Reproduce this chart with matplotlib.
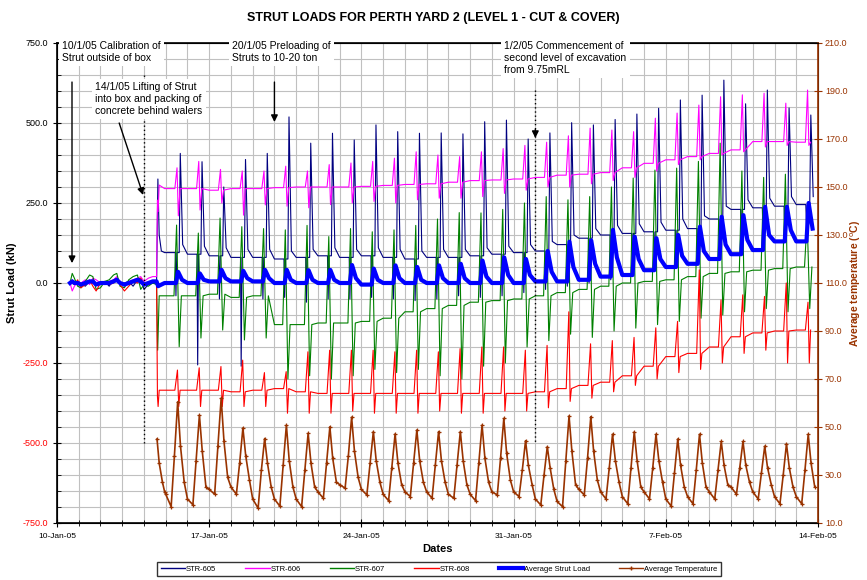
import matplotlib
matplotlib.use("Agg")
import matplotlib.pyplot as plt
import matplotlib.dates as mdates
from matplotlib.ticker import MultipleLocator, FuncFormatter, FixedLocator
from matplotlib.lines import Line2D
from datetime import datetime

plt.rcParams['font.family'] = ['Liberation Sans', 'DejaVu Sans']

# ---------------- DATA ----------------
start_date = datetime(2005, 1, 10)   # day index 0
first_day = 5                          # 15-Jan-05, first full day after lifting
x_tick_days = [0, 7, 14, 21, 28, 35]

# pre-installation period (day index, kN)
pre_t   = [0.60, 0.70, 0.80, 0.95, 1.10, 1.30, 1.50, 1.65, 1.80, 2.00, 2.20, 2.40,
           2.60, 2.75, 2.90, 3.10, 3.30, 3.50, 3.70, 3.85, 4.00, 4.20, 4.40, 4.58]
pre_605 = [0, 10, -5, 5, 0, -10, 5, 10, -5, 0, 5, -10, 10, 15, -5, 0, 5, -10, 10, 15, -20, -5, 0, 0]
pre_606 = [0, -25, -10, 5, 0, 10, -5, 15, 10, 0, -5, 5, 10, 20, 0, -10, 5, 10, 15, 20, 5, 15, 20, 20]
pre_607 = [0, 30, 15, -10, -15, 5, 25, 20, -20, -15, 5, 10, 25, 30, -10, -15, 10, 20, 25, -20, -5, -10, 0, -5]
pre_608 = [5, 0, -5, 10, -15, -5, 10, -10, -25, 0, 5, -5, 0, 10, -5, -25, -10, 5, 0, 15, -5, 0, 5, 5]
pre_avg = [0, 5, 0, 0, -5, 0, 5, 5, -5, 0, 0, 0, 5, 10, 0, -5, 0, 5, 10, 5, -5, 0, 5, 5]

# lifting into box (14-Jan afternoon)
jump_t605 = [4.60, 4.64, 4.70, 4.80, 4.95]
jump_605  = [0, 325, 150, 100, 95]
jump_t606 = [4.60, 4.62, 4.65, 4.70, 4.95]
jump_606  = [20, 259, 223, 306, 295]
jump_t607 = [4.60, 4.63, 4.70, 4.95]
jump_607  = [0, -210, -40, -40]
jump_t608 = [4.60, 4.62, 4.65, 4.70, 4.95]
jump_608  = [0, -355, -386, -335, -335]
jump_tavg = [4.60, 4.65, 4.95]
jump_avg  = [5, -10, 0]
jump_ttmp = [4.60, 4.70, 4.85, 4.95]
jump_tmp  = [45, 35, 27, 23]

# daily readings, 15-Jan-05 .. 13-Feb-05
s605_night = [95, 90, 85, 80, 80, 75, 80, 85, 80, 85, 80, 75, 80, 80, 85, 90, 95, 100, 120, 140,
              150, 155, 160, 165, 170, 200, 230, 235, 240, 245]
s605_dip   = [-40, -256, -50, -260, -50, -45, -60, -50, -50, -45, -50, -55, -50, -40, -45, -40, -30, -20, -10, 0,
              10, 20, 40, 60, 80, 100, 130, 150, 160, 170]
s605_peak  = [405, 379, 300, 386, 405, 519, 437, 468, 447, 494, 473, 468, 469, 466, 504, 509, 450, 469, 501, 494,
              511, 528, 546, 572, 587, 634, 560, 603, 547, 525]
s605_eve   = [120, 115, 110, 105, 105, 100, 105, 110, 105, 110, 105, 100, 105, 105, 110, 115, 120, 130, 150, 170,
              180, 185, 190, 200, 210, 240, 260, 265, 270, 270]

s606_base = [295, 295, 290, 295, 295, 298, 300, 300, 300, 302, 305, 308, 310, 315, 320, 322, 325, 330, 337, 340,
             345, 360, 374, 385, 395, 405, 416, 442, 442, 440]
s606_peak = [360, 380, 355, 350, 350, 365, 350, 370, 375, 380, 390, 410, 400, 395, 410, 420, 430, 440, 460, 484,
             478, 473, 515, 531, 556, 582, 588, 593, 562, 603]
s606_dip  = [210, 228, 250, 212, 244, 240, 235, 245, 250, 255, 250, 260, 265, 265, 270, 280, 290, 300, 300, 310,
             320, 330, 350, 370, 385, 400, 410, 425, 430, 430]

s607_base   = [-40, -40, -35, -45, -40, -130, -130, -125, -125, -120, -110, -90, -80, -70, -60, -55, -50, -40, -30, -20,
               -10, 0, 5, 10, 20, 30, 35, 40, 45, 50]
s607_peak   = [181, 156, 203, 176, 170, 166, 180, 145, 170, 160, 166, 180, 200, 220, 219, 230, 250, 270, 260, 270,
               300, 328, 353, 359, 380, 437, 350, 330, 340, 200]
s607_trough = [-199, -172, -147, -178, -172, -300, -290, -300, -290, -270, -280, -270, -290, -300, -260, -250, -200,
               -180, -160, -170, -150, -141, -130, -120, -110, -100, -90, -80, -90, -80]

s608_base = [-335, -335, -335, -340, -335, -330, -340, -345, -345, -345, -345, -345, -345, -345, -345, -345, -345,
             -340, -330, -320, -310, -290, -260, -230, -220, -200, -168, -156, -150, -147]
s608_peak = [-272, -265, -261, -241, -280, -277, -215, -210, -210, -210, -215, -210, -215, -205, -200, -200, -210,
             -195, -90, -190, -180, -170, -140, -120, 41, -53, -37, -42, 0, -60]
s608_dip  = [-386, -386, -386, -386, -386, -407, -407, -407, -400, -407, -407, -407, -400, -407, -407, -400, -400,
             -390, -370, -360, -340, -320, -300, -280, -270, -250, -220, -210, -250, -250]

avg_base = [0, 0, 5, 5, 5, 0, 0, 0, 0, -5, 0, 0, 0, 0, 0, 0, 0, 5, 5, 10, 20, 25, 40, 50, 60, 75, 90, 103, 130, 130]
avg_peak = [35, 30, 41, 38, 41, 41, 40, 41, 56, 45, 55, 50, 55, 60, 70, 80, 75, 100, 129, 133, 166, 145, 140, 150,
            176, 207, 212, 238, 238, 250]
avg_eve  = [10, 10, 15, 15, 15, 10, 10, 10, 15, 10, 15, 10, 15, 15, 20, 25, 25, 35, 50, 60, 80, 75, 75, 85, 100,
            120, 135, 150, 165, 170]

tmp_mid  = [22, 20, 24, 25, 20, 20, 20, 23, 26, 24, 22, 23, 23, 22, 22, 23, 23, 20, 19, 24, 23, 21, 23, 20, 21,
            23, 25, 23, 21, 21]
tmp_min  = [16.8, 17.6, 22, 22, 16.2, 17, 16.8, 20.3, 24.5, 21.7, 19.3, 21, 20.3, 20.3, 19.3, 21.7, 21, 17.5, 16.8,
            21.7, 20, 18, 20, 17, 18, 20, 22, 20, 18, 18]
tmp_rise = [38, 36, 42, 35, 32, 34, 32, 35, 38, 35, 33, 35, 34, 34, 35, 37, 32, 30, 36, 37, 33, 33, 33, 31, 32, 32,
            33, 31, 30, 32]
tmp_max  = [60.5, 55, 62, 49.6, 45.2, 50.8, 47.4, 50.1, 54.1, 48.1, 47.1, 48.75, 48.1, 48.1, 50.8, 53.6, 44.3, 41.8,
            54.6, 54.3, 47, 48, 47, 45, 47, 44, 44, 42, 43, 47]
tmp_aft  = [42, 40, 44, 38, 35, 36, 35, 37, 40, 36, 35, 36, 36, 36, 37, 39, 34, 33, 40, 40, 36, 36, 36, 34, 35, 34,
            34, 33, 33, 35]
tmp_eve  = [27, 25, 29, 28, 25, 25, 25, 27, 29, 27, 26, 27, 27, 26, 27, 28, 26, 24, 26, 28, 27, 25, 27, 25, 25, 26,
            27, 26, 25, 25]

y_ticks_left = [-750, -500, -250, 0, 250, 500, 750]
y_ticks_right = [10, 30, 50, 70, 90, 110, 130, 150, 170, 190, 210]

# time of day (fraction) of each daily reading
tod_605 = [(0.00, s605_night), (0.44, s605_night), (0.47, s605_dip), (0.51, s605_night), (0.62, s605_night),
           (0.67, s605_peak), (0.78, s605_eve)]
tod_606 = [(0.00, s606_base), (0.42, s606_base), (0.52, s606_peak), (0.58, s606_dip), (0.66, s606_base)]
tod_607 = [(0.00, s607_base), (0.38, s607_base), (0.50, s607_peak), (0.62, s607_trough), (0.72, s607_base)]
tod_608 = [(0.00, s608_base), (0.42, s608_base), (0.54, s608_peak), (0.60, s608_dip), (0.66, s608_base)]
tod_avg = [(0.00, avg_base), (0.47, avg_base), (0.57, avg_peak), (0.75, avg_eve)]
tod_tmp = [(0.00, tmp_mid), (0.25, tmp_min), (0.40, tmp_rise), (0.55, tmp_max), (0.68, tmp_aft), (0.85, tmp_eve)]

base_num = mdates.date2num(start_date)


def build(lead_t, lead_v, tod):
    xs = [base_num + t for t in lead_t]
    ys = list(lead_v)
    ndays = len(tod[0][1])
    for i in range(ndays):
        for frac, arr in tod:
            xs.append(base_num + first_day + i + frac)
            ys.append(arr[i])
    return xs, ys


x605, y605 = build(pre_t + jump_t605[1:], pre_605 + jump_605[1:], tod_605)
x606, y606 = build(pre_t + jump_t606[1:], pre_606 + jump_606[1:], tod_606)
x607, y607 = build(pre_t + jump_t607[1:], pre_607 + jump_607[1:], tod_607)
x608, y608 = build(pre_t + jump_t608[1:], pre_608 + jump_608[1:], tod_608)
xavg, yavg = build(pre_t + jump_tavg[1:], pre_avg + jump_avg[1:], tod_avg)
xtmp, ytmp = build(jump_ttmp, jump_tmp, tod_tmp)

# ---------------- FIGURE ----------------
fig = plt.figure(figsize=(8.67, 5.80), dpi=100)
L, R, B, T = 57 / 867, 818 / 867, 1 - 523 / 580, 1 - 43 / 580
ax = fig.add_axes([L, B, R - L, T - B])

grid_c = '#c0c0c0'
ax.set_xlim(base_num, base_num + 35)
ax.set_ylim(-750, 750)
ax.xaxis.set_major_locator(FixedLocator([base_num + d for d in x_tick_days]))
ax.xaxis.set_minor_locator(MultipleLocator(1))
ax.yaxis.set_minor_locator(MultipleLocator(50))
ax.set_yticks(y_ticks_left)
ax.grid(which='both', color=grid_c, lw=0.8, zorder=0)
ax.set_axisbelow(True)


def date_fmt(v, pos):
    d = mdates.num2date(v)
    return f"{d.day}-{d.strftime('%b-%y')}"


ax.xaxis.set_major_formatter(FuncFormatter(date_fmt))
ax.yaxis.set_major_formatter(FuncFormatter(lambda v, p: f"{v:.1f}"))
ax.tick_params(axis='x', which='major', direction='inout', length=6, labelsize=6, pad=4, colors='black')
ax.tick_params(axis='x', which='minor', direction='inout', length=4)
ax.tick_params(axis='y', which='major', direction='inout', length=6, labelsize=6.5)
ax.tick_params(axis='y', which='minor', direction='in', length=3)
for lab, v in zip(ax.get_yticklabels(), y_ticks_left):
    lab.set_color('red' if v < 0 else 'black')

for s in ['left', 'bottom', 'top']:
    ax.spines[s].set_linewidth(1.2)
    ax.spines[s].set_color('black')

ax.plot(x605, y605, color='#000080', lw=0.8, zorder=3)
ax.plot(x606, y606, color='#FF00FF', lw=0.8, zorder=3)
ax.plot(x607, y607, color='#008000', lw=0.8, zorder=3)
ax.plot(x608, y608, color='#FF0000', lw=0.8, zorder=3)
ax.plot(xavg, yavg, color='#0000FF', lw=3.0, zorder=4)

ax.set_ylabel('Strut Load (kN)', fontsize=8, fontweight='bold', labelpad=4)
ax.set_xlabel('Dates', fontsize=8, fontweight='bold', labelpad=3)

brown = '#993300'
ax2 = ax.twinx()
ax2.set_ylim(10, 210)
ax2.set_yticks(y_ticks_right)
ax2.yaxis.set_major_formatter(FuncFormatter(lambda v, p: f"{v:.1f}"))
ax2.tick_params(axis='y', direction='inout', length=6, labelsize=6.5, colors=brown, pad=2)
ax2.spines['right'].set_color(brown)
ax2.spines['right'].set_linewidth(1.2)
ax2.plot(xtmp, ytmp, color=brown, lw=1.2, marker='+', ms=3.5, mew=0.9, zorder=5)
ax2.set_ylabel('Average temperature ($^{\\mathrm{o}}$C)', fontsize=7.5, fontweight='bold', color=brown,
               rotation=90, va='center')
ax2.yaxis.set_label_coords((856 - 57) / 761, 0.5)

# event markers
ax.plot([base_num + 4.0] * 2, [650, -500], color='black', lw=1.0, ls=(0, (1, 2)), zorder=6)
ax.plot([base_num + 22.0] * 2, [603, -500], color='black', lw=1.0, ls=(0, (1, 2)), zorder=6)
arrow = dict(arrowstyle='-|>', color='black', lw=1.0, mutation_scale=10, shrinkA=0, shrinkB=0)
ax.annotate('', xy=(base_num + 0.69, 62), xytext=(base_num + 0.69, 628), arrowprops=arrow, zorder=7)
ax.annotate('', xy=(base_num + 3.96, 275), xytext=(base_num + 2.86, 500), arrowprops=arrow, zorder=7)
ax.annotate('', xy=(base_num + 10.0, 503), xytext=(base_num + 10.0, 628), arrowprops=arrow, zorder=7)
ax.annotate('', xy=(base_num + 22.0, 453), xytext=(base_num + 22.0, 480), arrowprops=arrow, zorder=7)

box = dict(facecolor='white', edgecolor='none', pad=2.5)
fs = 7.5
fig.text(62 / 867, 1 - 41 / 580, '10/1/05 Calibration of\nStrut outside of box', fontsize=fs,
         va='top', ha='left', bbox=box, linespacing=1.25)
fig.text(95 / 867, 1 - 82 / 580, '14/1/05 Lifting of Strut\ninto box and packing of\nconcrete behind walers',
         fontsize=fs, va='top', ha='left', bbox=box, linespacing=1.25)
fig.text(232 / 867, 1 - 41 / 580, '20/1/05 Preloading of\nStruts to 10-20 ton', fontsize=fs,
         va='top', ha='left', bbox=box, linespacing=1.25)
fig.text(504 / 867, 1 - 41 / 580, '1/2/05 Commencement of\nsecond level of excavation\nfrom 9.75mRL', fontsize=fs,
         va='top', ha='left', bbox=box, linespacing=1.25)

fig.text(0.5, 1 - 18 / 580, 'STRUT LOADS FOR PERTH YARD 2 (LEVEL 1 - CUT & COVER)', fontsize=9,
         fontweight='bold', ha='center', va='center')

handles = [
    Line2D([], [], color='#000080', lw=1),
    Line2D([], [], color='#FF00FF', lw=1),
    Line2D([], [], color='#008000', lw=1),
    Line2D([], [], color='#FF0000', lw=1),
    Line2D([], [], color='#0000FF', lw=3),
    Line2D([], [], color=brown, lw=1, marker='+', ms=3),
]
labels = ['STR-605', 'STR-606', 'STR-607', 'STR-608', 'Average Strut Load', 'Average Temperature']
leg = fig.legend(handles, labels, loc='center', bbox_to_anchor=(439 / 867, 1 - 569 / 580), ncol=6,
                 fontsize=5.5, frameon=True, fancybox=False, edgecolor='black', handlelength=3.2,
                 handletextpad=0.1, columnspacing=3.8, borderpad=0.5)
leg.get_frame().set_linewidth(1.0)

fig.savefig('out.png', dpi=100)
